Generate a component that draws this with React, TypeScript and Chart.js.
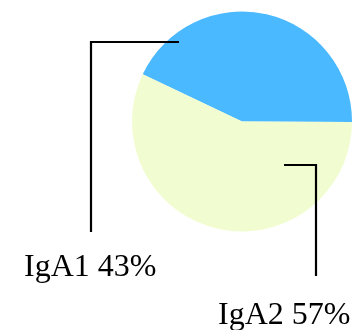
import React, { useEffect, useRef } from "react";
import { Chart, registerables } from "chart.js";

Chart.register(...registerables);

const categories = ["IgA1", "IgA2"];
const shares = [43, 57];
const sliceColors = ["#4ab9ff", "#f1fdd1"];

const leaderPlugin = {
  id: "leaders",
  afterDraw(chart: any) {
    const meta = chart.getDatasetMeta(0);
    const arc = meta.data[0];
    if (!arc) return;
    const cx = arc.x;
    const cy = arc.y;
    const ctx = chart.ctx;
    ctx.save();
    ctx.strokeStyle = "#000";
    ctx.lineWidth = 2.2;
    ctx.lineJoin = "miter";
    // IgA1 leader
    ctx.beginPath();
    ctx.moveTo(cx - 63, cy - 79.5);
    ctx.lineTo(cx - 151, cy - 79.5);
    ctx.lineTo(cx - 151, cy + 110.5);
    ctx.stroke();
    // IgA2 leader
    ctx.beginPath();
    ctx.moveTo(cx + 42, cy + 43.5);
    ctx.lineTo(cx + 74, cy + 43.5);
    ctx.lineTo(cx + 74, cy + 154.5);
    ctx.stroke();
    ctx.fillStyle = "#000";
    ctx.font = "32px 'Liberation Serif', 'Times New Roman', serif";
    ctx.textAlign = "left";
    ctx.textBaseline = "alphabetic";
    ctx.fillText(`${categories[0]} ${shares[0]}%`, cx - 218, cy + 154);
    ctx.fillText(`${categories[1]} ${shares[1]}%`, cx - 24, cy + 202);
    ctx.restore();
  },
};

export default function App() {
  const ref = useRef<HTMLCanvasElement>(null);
  useEffect(() => {
    if (!ref.current) return;
    const chart = new Chart(ref.current, {
      type: "pie",
      data: {
        labels: categories,
        datasets: [
          {
            data: shares,
            backgroundColor: sliceColors,
            borderWidth: 0,
          },
        ],
      },
      options: {
        responsive: false,
        animation: false,
        rotation: -64.5,
        layout: { padding: { left: 132, right: 1, top: 11.5, bottom: 98.5 } },
        plugins: {
          legend: { display: false },
          tooltip: { enabled: false },
        },
      },
      plugins: [leaderPlugin],
    });
    return () => chart.destroy();
  }, []);
  return (
    <div style={{ position: "fixed", left: 0, top: 0, width: 353, height: 330, background: "#fff" }}>
      <canvas ref={ref} width={353} height={330} style={{ width: 353, height: 330 }} />
    </div>
  );
}
